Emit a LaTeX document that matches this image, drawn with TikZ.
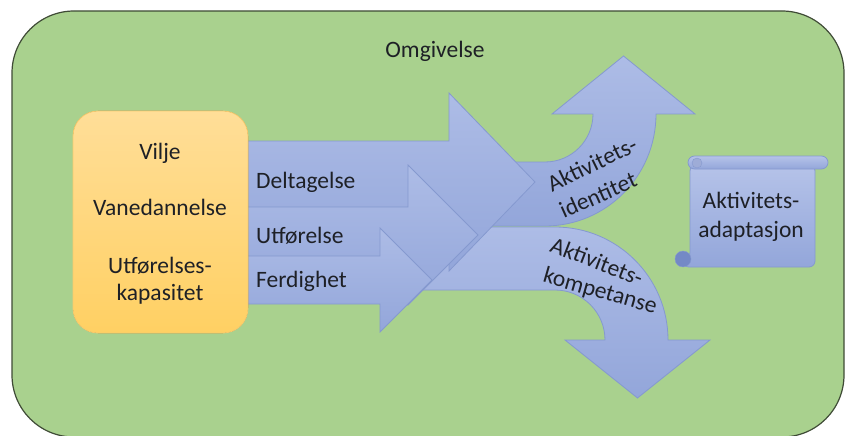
\documentclass[tikz,border=0pt]{standalone}
\usepackage{fontspec}
\setmainfont{Carlito}

\definecolor{envgreen}{HTML}{A9D18E}
\definecolor{envline}{HTML}{3F4B36}
\definecolor{boxtop}{HTML}{FFDE98}
\definecolor{boxbottom}{HTML}{FFD063}
\definecolor{boxline}{HTML}{F7CB6E}
\definecolor{arrowtop}{HTML}{ADBCE6}
\definecolor{arrowbottom}{HTML}{93A6DA}
\definecolor{arrowline}{HTML}{8599CF}
\definecolor{curldark}{HTML}{7489C6}
\definecolor{labeltext}{HTML}{1E2026}

\begin{document}
\begin{tikzpicture}[
    x=1pt, y=-1pt,
    % the look of texts and shapes
    lbl/.style={font=\fontsize{23.5}{27}\selectfont, text=labeltext, inner sep=0pt},
    arrowshape/.style={top color=arrowtop, bottom color=arrowbottom, draw=arrowline, line width=0.8pt, line join=miter},
    scrollshape/.style={top color=arrowtop!90!white, bottom color=arrowbottom, draw=arrowline, line width=0.8pt}
]
    \useasboundingbox (0,0) rectangle (847,436);

    % --- The surroundings ---
    \fill[envgreen, draw=envline, line width=1.2pt, rounded corners=62pt] (12,11) rectangle (844,437);
    \node[lbl, anchor=base] (omgivelse) at (435,58) {Omgivelse};

    % --- Define Coordinates for the bent arrows ---
    \coordinate (IdentTip) at (623.5,56);
    \coordinate (KompTip) at (637.5,398);

    % The lower bent arrow turns down
    \path[arrowshape] (400,227) -- (555,227)
        arc[start angle=-90, end angle=0, x radius=113, y radius=113]
        -- (710,340) -- (KompTip) -- (565,340) -- (605,340)
        arc[start angle=0, end angle=-90, x radius=50, y radius=50]
        -- (400,290) -- cycle;

    % The upper bent arrow turns up
    \path[arrowshape] (400,162) -- (545,162)
        arc[start angle=90, end angle=0, x radius=48, y radius=48]
        -- (552,114) -- (IdentTip) -- (695,114) -- (656,114)
        arc[start angle=0, end angle=90, x radius=111, y radius=112]
        -- (400,226) -- cycle;

    % --- The three straight arrows, smallest on top ---
    \path[arrowshape] (240,141) -- (449,141) -- (449,93) -- (535,182)
        -- (449,271) -- (449,223) -- (240,223) -- cycle;
    \path[arrowshape] (240,207) -- (408,207) -- (408,165) -- (478,235)
        -- (408,305) -- (408,263) -- (240,263) -- cycle;
    \path[arrowshape] (240,256) -- (380,256) -- (380,228) -- (432,280)
        -- (380,332) -- (380,304) -- (240,304) -- cycle;

    % --- The person ---
    \fill[top color=boxtop, bottom color=boxbottom, draw=boxline, line width=0.8pt, rounded corners=25pt]
        (73,111) rectangle (248,333);
    \node[lbl, anchor=base] (vilje) at (160,160) {Vilje};
    \node[lbl, anchor=base] (vane) at (160,215) {Vanedannelse};
    \node[lbl, anchor=base] (utfkap) at (160,273) {Utførelses-};
    \node[lbl, anchor=base] (kapasitet) at (160,300) {kapasitet};

    \node[lbl, anchor=base west] (deltagelse) at (256,188) {Deltagelse};
    \node[lbl, anchor=base west] (utforelse) at (256,243) {Utførelse};
    \node[lbl, anchor=base west] (ferdighet) at (256,287) {Ferdighet};

    % texts along the bent arrows
    \node[lbl, rotate=26] (ident1) at (592,164) {Aktivitets-};
    \node[lbl, rotate=24] (ident2) at (598,195) {identitet};
    \node[lbl, rotate=-21] (komp1) at (597,261) {Aktivitets-};
    \node[lbl, rotate=-16] (komp2) at (600,292) {kompetanse};

    % --- The scroll ---
    \path[scrollshape, rounded corners=6pt] (690,165) -- (815,165) -- (815,267) -- (683,267) -- (690,258) -- cycle;
    \path[scrollshape, rounded corners=6.5pt] (688,156) rectangle (828,169);
    \fill[curldark, draw=arrowline] (683,259) circle[radius=8];
    \fill[curldark!70!white, draw=arrowline] (697,163) circle[radius=5];
    \node[lbl, anchor=base] (adapt1) at (751,208) {Aktivitets-};
    \node[lbl, anchor=base] (adapt2) at (751,237) {adaptasjon};

\end{tikzpicture}
\end{document}
